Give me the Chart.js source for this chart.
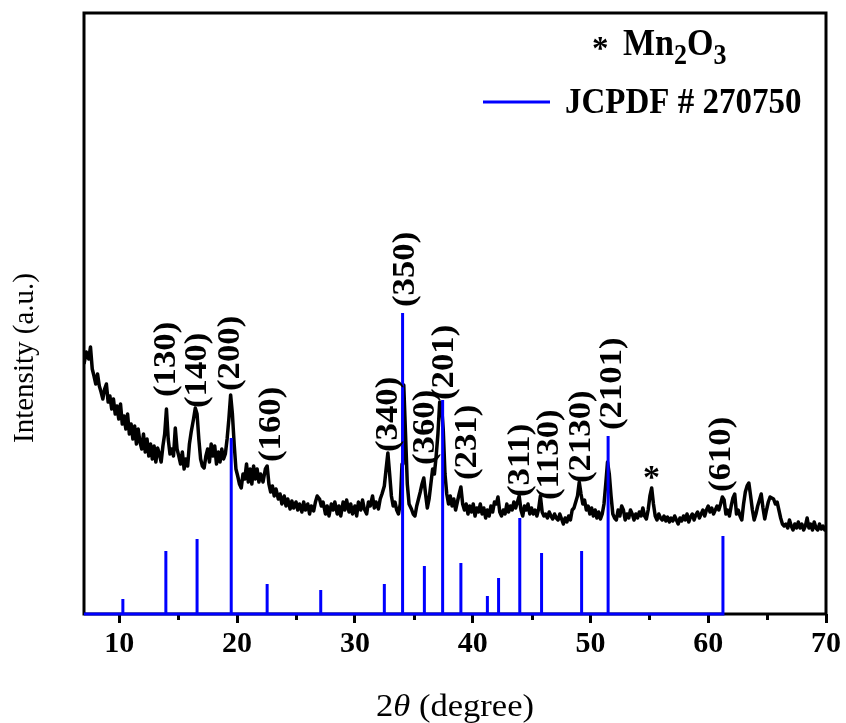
<!DOCTYPE html>
<html><head><meta charset="utf-8">
<script src="https://cdn.jsdelivr.net/npm/chart.js@4/dist/chart.umd.min.js"></script>
<style>html,body{margin:0;padding:0;background:#fff;}canvas{display:block;}</style>
</head><body>
<canvas id="c" width="846" height="723"></canvas>
<script>
// ---- measured pattern (2theta in degrees, intensity in a.u.) ----
const twoTheta = [
7.0,7.2,7.4,7.55,7.7,7.85,8.0,8.15,8.3,8.45,8.6,8.75,8.9,9.05,9.2,9.35,9.5,9.65,9.8,9.95,
10.1,10.25,10.4,10.55,10.7,10.85,11.0,11.15,11.3,11.45,11.6,11.75,11.9,12.05,12.2,12.35,12.5,12.65,12.8,12.95,
13.1,13.25,13.4,13.55,13.7,13.85,14.0,14.15,14.3,14.45,14.6,14.75,14.9,15.05,15.2,15.35,15.5,15.65,15.8,15.95,
16.1,16.3,16.45,16.6,16.75,16.9,17.05,17.2,17.35,17.5,17.65,17.8,17.95,18.1,18.25,18.4,18.55,18.7,18.85,19.0,
19.15,19.3,19.45,19.6,19.75,19.9,20.05,20.2,20.35,20.5,20.65,20.8,20.95,21.1,21.25,21.4,21.55,21.7,21.85,22.0,
22.2,22.4,22.55,22.7,22.85,23.0,23.15,23.3,23.5,23.65,23.8,24.0,24.15,24.3,24.5,24.65,24.8,25.0,25.15,25.3,
25.5,25.65,25.8,26.0,26.15,26.3,26.5,26.65,26.8,27.0,27.15,27.3,27.5,27.65,27.8,28.0,28.15,28.3,28.5,28.65,
28.8,29.0,29.15,29.3,29.5,29.65,29.8,30.0,30.15,30.3,30.5,30.65,30.8,31.0,31.15,31.3,31.5,31.65,31.8,32.0,
32.15,32.3,32.5,32.65,32.8,32.95,33.1,33.25,33.4,33.55,33.7,33.85,34.0,34.08,34.15,34.3,34.45,34.6,34.8,34.95,
35.1,35.25,35.4,35.55,35.7,35.85,36.0,36.15,36.3,36.45,36.6,36.75,36.9,37.05,37.2,37.35,37.5,37.65,37.8,37.95,
38.1,38.25,38.4,38.55,38.7,38.85,39.0,39.15,39.3,39.45,39.6,39.75,39.9,40.05,40.2,40.35,40.5,40.65,40.8,40.95,
41.1,41.25,41.4,41.55,41.7,41.85,42.0,42.15,42.3,42.45,42.6,42.75,42.9,43.05,43.2,43.35,43.5,43.65,43.8,43.95,
44.1,44.25,44.4,44.55,44.7,44.85,45.0,45.15,45.3,45.45,45.6,45.75,45.9,46.05,46.2,46.35,46.5,46.65,46.8,46.95,
47.1,47.25,47.4,47.55,47.7,47.85,48.0,48.15,48.3,48.45,48.6,48.75,48.9,49.05,49.2,49.35,49.5,49.65,49.8,49.95,
50.1,50.25,50.4,50.55,50.7,50.85,51.0,51.15,51.3,51.45,51.6,51.75,51.9,52.05,52.2,52.35,52.5,52.65,52.8,52.95,
53.1,53.25,53.4,53.55,53.7,53.85,54.0,54.15,54.3,54.45,54.6,54.75,54.9,55.05,55.2,55.35,55.5,55.65,55.8,55.95,
56.1,56.25,56.4,56.55,56.7,56.85,57.0,57.15,57.3,57.45,57.6,57.75,57.9,58.05,58.2,58.35,58.5,58.65,58.8,58.95,
59.1,59.25,59.4,59.55,59.7,59.85,60.0,60.15,60.3,60.45,60.6,60.75,60.9,61.05,61.2,61.35,61.5,61.65,61.8,61.95,
62.1,62.25,62.4,62.55,62.7,62.85,63.0,63.15,63.3,63.45,63.6,63.75,63.9,64.05,64.2,64.35,64.5,64.65,64.8,64.95,
65.1,65.25,65.4,65.55,65.7,65.85,66.0,66.15,66.3,66.45,66.6,66.75,66.9,67.05,67.2,67.35,67.5,67.65,67.8,67.95,
68.1,68.25,68.4,68.55,68.7,68.85,69.0,69.15,69.3,69.45,69.6,69.75,69.9,70.0
];
const intensity = [
250,262,255,267,245,238,230,240,228,222,215,225,230,212,218,205,215,200,208,195,
210,190,198,185,200,180,190,175,188,170,185,172,165,180,162,175,158,170,155,168,
152,166,160,152,168,180,205,175,160,165,158,186,165,158,150,162,145,155,148,170,
182,195,206,200,175,155,148,146,158,165,152,170,158,168,150,162,152,165,155,160,
175,195,219,200,170,145,138,130,126,140,135,150,132,145,130,148,135,145,132,140,
132,145,148,130,122,128,118,125,115,120,110,118,108,115,105,113,106,112,104,110,
102,112,104,110,100,108,103,112,118,115,108,112,100,108,98,110,104,112,100,108,
98,112,104,114,102,110,100,108,98,112,104,114,105,100,112,108,118,106,112,105,
115,120,128,145,161,140,118,108,112,104,100,110,150,200,229,180,130,110,105,100,
98,108,115,122,130,136,120,106,115,130,145,140,158,180,212,210,185,140,120,110,
118,108,115,104,112,120,127,110,104,110,100,108,102,110,98,106,102,110,100,106,
96,104,98,108,102,112,110,117,102,98,104,100,110,102,108,104,112,106,112,118,
104,98,108,104,110,100,106,100,104,98,105,118,102,98,100,96,102,98,95,100,
96,94,100,95,90,96,92,98,94,104,106,112,118,132,120,110,114,104,108,100,
106,98,104,96,102,95,100,110,130,152,140,118,100,96,94,104,98,108,104,94,
100,96,104,100,94,100,96,102,98,106,98,95,104,118,126,110,98,94,100,96,
94,98,93,97,92,96,93,98,94,90,96,93,98,94,100,92,97,100,94,99,
102,96,100,104,98,104,108,102,106,100,104,108,104,110,117,114,100,104,98,108,
116,120,100,104,98,94,110,122,128,131,118,104,94,100,108,114,120,106,95,104,
112,117,116,115,110,112,104,96,90,88,90,86,94,88,84,90,86,92,86,90,
84,88,96,86,90,84,92,86,84,90,85,88,84,86
];
// ---- JCPDF # 270750 reference lines ----
const refPos = [10.3,13.95,16.6,19.5,22.55,27.1,32.5,34.05,35.9,37.45,39.0,41.25,42.2,44.0,45.85,49.25,51.5,61.25];
const refInt = [15,63,75,176,30,24,30,301,48,214,51,18,36,96,61,63,178,78];
// ---- annotations ----
const hklLabels = ['(130)','(140)','(200)','(160)','(340)','(350)','(360)','(201)','(231)','(311)','(1130)','(2130)','(2101)','(610)'];
const hklX      = [14.04,16.67,19.47,22.95,32.87,34.31,36.0,37.62,39.57,44.07,46.6,49.24,51.95,61.2];
const hklY      = [217,206,223,152,162,307,149,214,134,117,114,131,184,122];
const starX = 55.18, starY = 142;
const xTicks = [10,20,30,40,50,60,70];
const xMinorTicks = [15,25,35,45,55,65];

const xrdPts = twoTheta.map((x,i)=>({x:x, y:intensity[i]}));
const stickPts = [{x:7,y:0}];
refPos.forEach((p,i)=>{ stickPts.push({x:p,y:0},{x:p,y:refInt[i]},{x:p,y:0}); });

const SERIF = '"Liberation Serif","Times New Roman",serif';

function stretchedText(ctx, text, x, y, sy){
  ctx.save();
  ctx.translate(x, y);
  ctx.scale(1, sy);
  ctx.fillText(text, 0, 0);
  ctx.restore();
}

const deco = {
  id:'deco',
  beforeDatasetsDraw(chart){
    const {ctx, chartArea:a} = chart;
    const xs = chart.scales.x;
    ctx.save();
    ctx.strokeStyle = '#000';
    ctx.lineWidth = 3;
    ctx.strokeRect(a.left, a.top, a.right-a.left, a.bottom-a.top);
    ctx.beginPath();
    xMinorTicks.forEach(v=>{
      const px = Math.round(xs.getPixelForValue(v)) + 0.5;
      ctx.moveTo(px, a.bottom);
      ctx.lineTo(px, a.bottom + 6);
    });
    ctx.stroke();
    ctx.restore();
  },
  afterDatasetsDraw(chart){
    const {ctx} = chart;
    const xs = chart.scales.x, ys = chart.scales.y;
    ctx.save();
    ctx.fillStyle = '#000';
    // hkl labels
    ctx.font = 'bold 31px ' + SERIF;
    ctx.textAlign = 'left';
    ctx.textBaseline = 'middle';
    hklLabels.forEach((t,i)=>{
      const px = xs.getPixelForValue(hklX[i]);
      const py = ys.getPixelForValue(hklY[i]);
      ctx.save();
      ctx.translate(px, py);
      ctx.rotate(-Math.PI/2);
      ctx.scale(1.12, 1);
      ctx.fillText(t, 0, 0);
      ctx.restore();
    });
    // star marker
    ctx.textAlign = 'center';
    ctx.textBaseline = 'alphabetic';
    ctx.font = 'bold 34px ' + SERIF;
    ctx.fillText('*', xs.getPixelForValue(starX), ys.getPixelForValue(starY) + 16);
    // legend
    ctx.textAlign = 'left';
    ctx.font = 'bold 33px ' + SERIF;
    ctx.fillText('*', 592, 59);
    let x = 623;
    const parts = [['Mn',34,0],['2',26,9],['O',34,0],['3',26,9]];
    parts.forEach(p=>{
      ctx.font = 'bold ' + p[1] + 'px ' + SERIF;
      stretchedText(ctx, p[0], x, 55 + p[2], 1.1);
      x += ctx.measureText(p[0]).width;
    });
    ctx.strokeStyle = '#0000ff';
    ctx.lineWidth = 3;
    ctx.beginPath(); ctx.moveTo(483, 102); ctx.lineTo(550, 102); ctx.stroke();
    ctx.font = 'bold 33px ' + SERIF;
    stretchedText(ctx, 'JCPDF # 270750', 565, 113, 1.1);
    // axis titles
    ctx.save();
    ctx.translate(25, 358);
    ctx.rotate(-Math.PI/2);
    ctx.font = '29px ' + SERIF;
    ctx.textAlign = 'center';
    ctx.textBaseline = 'middle';
    ctx.fillText('Intensity (a.u.)', 0, 0);
    ctx.restore();
    const segs = [['2','32px '],['\u03B8','italic 32px '],[' (degree)','32px ']];
    const sx = 1.08;
    let tw = 0;
    segs.forEach(s=>{ ctx.font = s[1] + SERIF; tw += ctx.measureText(s[0]).width; });
    ctx.save();
    ctx.translate((chart.chartArea.left + chart.chartArea.right)/2 - tw*sx/2, 716);
    ctx.scale(sx, 1);
    let tx = 0;
    ctx.textAlign = 'left';
    segs.forEach(s=>{ ctx.font = s[1] + SERIF; ctx.fillText(s[0], tx, 0); tx += ctx.measureText(s[0]).width; });
    ctx.restore();
    ctx.restore();
  }
};

new Chart(document.getElementById('c'), {
  type: 'line',
  data: { datasets: [
    { label:'JCPDF # 270750', data: stickPts, borderColor:'#0000ff', borderWidth:3, pointRadius:0, tension:0, clip:5, borderJoinStyle:'miter' },
    { label:'XRD', data: xrdPts, borderColor:'#000000', borderWidth:3.5, pointRadius:0, tension:0, borderJoinStyle:'round' }
  ]},
  options: {
    responsive:false, animation:false, devicePixelRatio:1,
    plugins:{ legend:{display:false}, tooltip:{enabled:false} },
    layout:{ padding:{ top:13, right:20, left:0, bottom:0 } },
    scales:{
      x:{ type:'linear', min:7, max:70,
        afterBuildTicks: s=>{ s.ticks = xTicks.map(v=>({value:v})); },
        afterFit: s=>{ s.height = 109; },
        grid:{ drawOnChartArea:false, drawTicks:true, tickLength:9, tickWidth:3, tickColor:'#000' },
        border:{ display:false },
        ticks:{ font:{ family:SERIF, weight:'bold', size:30 }, color:'#000', padding:3, maxRotation:0, autoSkip:false }
      },
      y:{ type:'linear', min:0, max:601,
        afterFit: s=>{ s.width = 84; },
        ticks:{ display:false }, grid:{ display:false }, border:{ display:false }
      }
    }
  },
  plugins:[deco]
});
</script>
</body></html>
